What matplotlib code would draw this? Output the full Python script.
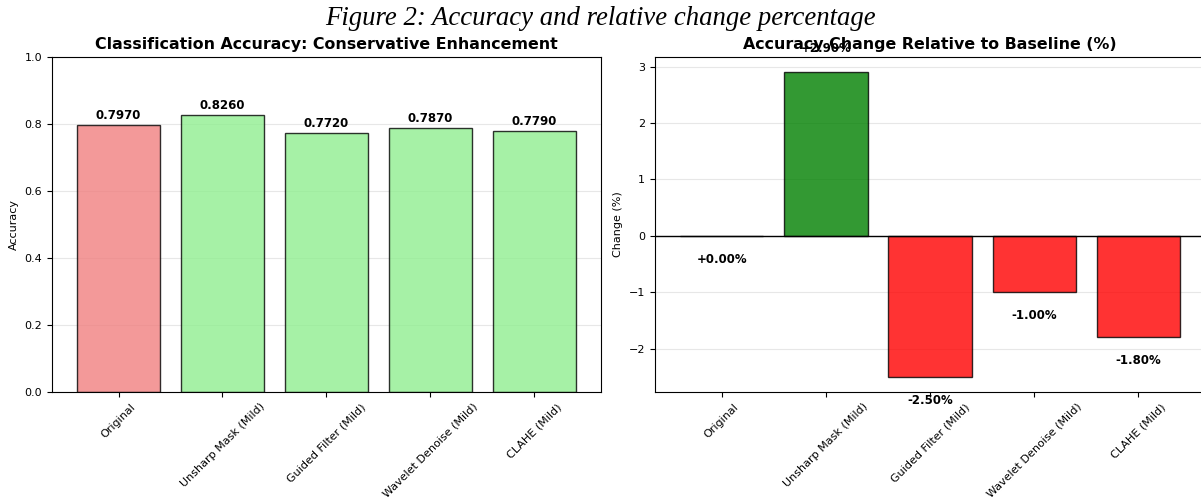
import numpy as np
import matplotlib.pyplot as plt

# ---------- Data ----------
methods = ["Original", "Unsharp Mask (Mild)", "Guided Filter (Mild)",
           "Wavelet Denoise (Mild)", "CLAHE (Mild)"]
accuracy = [0.797, 0.826, 0.772, 0.787, 0.779]
change_pct = [0.00, 2.90, -2.50, -1.00, -1.80]


def main():
    fig = plt.figure(figsize=(12.01, 4.97), dpi=100)
    fig.text(0.5, 0.963, "Figure 2: Accuracy and relative change percentage",
             ha="center", va="center", fontsize=19.3, style="italic",
             family="Liberation Serif")

    x = np.arange(len(methods))

    # Left: accuracy bars
    ax1 = fig.add_axes([0.0433, 0.2113, 0.457, 0.674])
    colors1 = ["lightcoral"] + ["lightgreen"] * (len(methods) - 1)
    bars = ax1.bar(x, accuracy, color=colors1, alpha=0.8,
                   edgecolor="black", linewidth=1)
    for b, v in zip(bars, accuracy):
        ax1.text(b.get_x() + b.get_width() / 2, v + 0.01, f"{v:.4f}",
                 ha="center", va="bottom", fontsize=8.5, fontweight="bold")
    ax1.set_ylim(0, 1.0)
    ax1.set_xticks(x)
    ax1.set_xticklabels(methods, rotation=45, fontsize=8)
    ax1.tick_params(axis="y", labelsize=8)
    ax1.set_ylabel("Accuracy", fontsize=8)
    ax1.set_title("Classification Accuracy: Conservative Enhancement",
                  fontsize=11.4, fontweight="bold")
    ax1.grid(True, axis="y", alpha=0.3)
    ax1.set_axisbelow(True)

    # Right: relative change
    ax2 = fig.add_axes([0.5454, 0.2113, 0.458, 0.674])
    colors2 = ["green" if c > 0 else "red" for c in change_pct]
    bars2 = ax2.bar(x, change_pct, color=colors2, alpha=0.8,
                    edgecolor="black", linewidth=1)
    for b, v in zip(bars2, change_pct):
        if v > 0:
            ax2.text(b.get_x() + b.get_width() / 2, v + 0.3, f"{v:+.2f}%",
                     ha="center", va="bottom", fontsize=8.5, fontweight="bold")
        else:
            ax2.text(b.get_x() + b.get_width() / 2, v - 0.3, f"{v:+.2f}%",
                     ha="center", va="top", fontsize=8.5, fontweight="bold")
    ax2.axhline(0, color="black", linewidth=1)
    ax2.set_xticks(x)
    ax2.set_xticklabels(methods, rotation=45, fontsize=8)
    ax2.tick_params(axis="y", labelsize=8)
    ax2.set_ylabel("Change (%)", fontsize=8)
    ax2.set_title("Accuracy Change Relative to Baseline (%)",
                  fontsize=11.4, fontweight="bold")
    ax2.grid(True, axis="y", alpha=0.3)
    ax2.set_axisbelow(True)

    fig.savefig("out.png", dpi=100)


if __name__ == "__main__":
    main()
